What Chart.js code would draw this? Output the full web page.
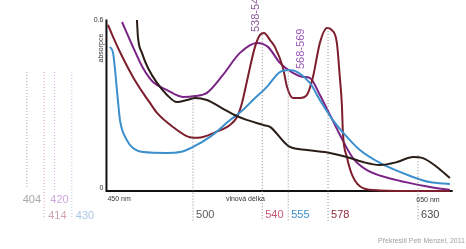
<!DOCTYPE html>
<html>
<head>
<meta charset="utf-8">
<script src="https://cdn.jsdelivr.net/npm/chart.js@4"></script>
<style>
  html, body { margin: 0; padding: 0; background: #fff; }
  #wrap { width: 466px; height: 249px; position: relative; }
</style>
</head>
<body>
<div id="wrap"><canvas id="spectrum"></canvas></div>
<script>
// absorpční spektra
const blackNm  = [467.6, 468.2, 470.5, 474, 479.2, 485, 490.7, 496.5, 501.1, 508, 516.7, 525.4, 540.4, 544.5, 553.1, 556, 565.8, 579.1, 588.9, 598.2, 608, 617.8, 627.1, 632.8, 640.9, 648.4];
const blackAbs = [0.598, 0.538, 0.483, 0.430, 0.378, 0.336, 0.311, 0.318, 0.325, 0.318, 0.290, 0.262, 0.231, 0.224, 0.168, 0.154, 0.143, 0.133, 0.119, 0.101, 0.091, 0.101, 0.119, 0.115, 0.084, 0.045];

const maroonNm  = [450.9, 453.8, 459.5, 465.3, 471.1, 475.1, 479.2, 488.4, 498.2, 503, 512.7, 521.3, 525.4, 528.3, 531.7, 535.8, 538.7, 541, 544.5, 547.3, 552, 554.3, 557.7, 561.8, 565.8, 569.3, 573.3, 577.4, 580.2, 583.1, 584.8, 586, 586.6, 588.9, 592.4, 598.2, 608, 630, 648.4];
const maroonAbs = [0.581, 0.539, 0.465, 0.399, 0.343, 0.308, 0.273, 0.224, 0.188, 0.186, 0.205, 0.231, 0.259, 0.308, 0.399, 0.504, 0.546, 0.553, 0.528, 0.504, 0.430, 0.364, 0.325, 0.325, 0.336, 0.399, 0.518, 0.570, 0.563, 0.518, 0.399, 0.301, 0.203, 0.119, 0.049, 0.010, 0.002, 0.0, 0.0];

const purpleNm  = [459, 465.3, 471.1, 476.9, 485, 494.2, 501.1, 508, 517.3, 527.1, 536.9, 543.3, 550.2, 557.7, 563.5, 567.6, 573.3, 579.1, 584.9, 592.4, 600.5, 617.8, 636.9, 648.4];
const purpleAbs = [0.591, 0.504, 0.430, 0.381, 0.353, 0.329, 0.332, 0.343, 0.406, 0.483, 0.518, 0.504, 0.448, 0.413, 0.399, 0.395, 0.336, 0.266, 0.196, 0.115, 0.073, 0.038, 0.014, 0.003];

const blueNm  = [452, 453.8, 456.6, 457.8, 461.8, 465.3, 471.1, 485, 492.5, 500, 509.8, 521.4, 528.8, 534.6, 542.7, 550.2, 556, 567.5, 573.3, 580.8, 588.9, 596.4, 608, 627, 636.8, 648.4];
const blueAbs = [0.504, 0.483, 0.318, 0.248, 0.178, 0.150, 0.136, 0.133, 0.136, 0.154, 0.189, 0.248, 0.283, 0.318, 0.364, 0.416, 0.423, 0.378, 0.318, 0.248, 0.189, 0.143, 0.098, 0.049, 0.031, 0.024];

// svislé tečkované čáry u maxim
const peakNm     = [500, 540, 555, 578, 630];
const peakLabels = ['500', '540', '555', '578', '630'];
const peakTop    = [0.330, 0.545, 0.425, 0.570, 0.125];
const peakColors = ['#5a5a5a', '#c45a72', '#3d8fcc', '#8e2a38', '#4a4a4a'];

// čáry vlevo mimo graf (Soretův pás)
const soretNm     = [404, 414, 420, 430];
const soretLabels = ['404', '414', '420', '430'];
const soretBottom = [0.010, -0.094, 0.004, -0.094];
const soretColors = ['#a8a8a8', '#d0a4aa', '#cfa8dc', '#a9c6e6'];
const soretTop = 0.416;

// popisky rozsahů maxim
const rangeLabels = ['538-546', '568-569'];
const rangeNm     = [540, 568.5];

const axisMin = 450, axisMax = 650, absMax = 0.6;

const curveColors = { black: '#2a1c16', maroon: '#7c1e2c', purple: '#7a2486', blue: '#3b8fcd' };

function toPoints(xs, ys) {
    return xs.map((x, i) => ({ x: x, y: ys[i] }));
}

function curve(xs, ys, color) {
    return {
        data: toPoints(xs, ys),
        borderColor: color,
        borderWidth: 2,
        pointRadius: 0,
        cubicInterpolationMode: 'monotone',
        fill: false
    };
}

function dotted(x, y0, y1, color) {
    return {
        data: [{ x: x, y: y0 }, { x: x, y: y1 }],
        borderColor: color,
        borderWidth: 1,
        borderDash: [1, 2],
        pointRadius: 0,
        fill: false
    };
}

const datasets = [];
peakNm.forEach((nm, i) => datasets.push(dotted(nm, peakTop[i], -0.105, '#8a8a8a')));
soretNm.forEach((nm, i) => datasets.push(dotted(nm, soretTop, soretBottom[i], soretColors[i])));
datasets.push(curve(blackNm, blackAbs, curveColors.black));
datasets.push(curve(blueNm, blueAbs, curveColors.blue));
datasets.push(curve(maroonNm, maroonAbs, curveColors.maroon));
datasets.push(curve(purpleNm, purpleAbs, curveColors.purple));
// osy
datasets.push({
    data: [{ x: axisMin, y: absMax }, { x: axisMin, y: 0 }, { x: axisMax, y: 0 }],
    borderColor: '#111',
    borderWidth: 2,
    pointRadius: 0,
    tension: 0,
    fill: false
});

// popisky kreslené přes měřítka grafu
const labelPlugin = {
    id: 'labels',
    afterDatasetsDraw(chart) {
        const ctx = chart.ctx;
        const xs = chart.scales.x, ys = chart.scales.y;
        ctx.save();
        ctx.textBaseline = 'middle';

        // maxima pod osou
        ctx.font = '11px "Liberation Sans", Arial, sans-serif';
        ctx.textAlign = 'left';
        peakNm.forEach((nm, i) => {
            ctx.fillStyle = peakColors[i];
            ctx.fillText(peakLabels[i], xs.getPixelForValue(nm) + 3, 215);
        });

        // Soretův pás
        soretNm.forEach((nm, i) => {
            ctx.fillStyle = soretColors[i];
            const px = xs.getPixelForValue(nm);
            if (soretBottom[i] > 0) {
                ctx.textAlign = 'center';
                ctx.fillText(soretLabels[i], px + 5, 200);
            } else {
                ctx.textAlign = 'left';
                ctx.fillText(soretLabels[i], px + 4, 216);
            }
        });

        // popisky os
        ctx.fillStyle = '#333';
        ctx.font = '7px "Liberation Sans", Arial, sans-serif';
        ctx.textAlign = 'left';
        const y0 = ys.getPixelForValue(0);
        ctx.fillText('450 nm', xs.getPixelForValue(axisMin) + 1, y0 + 8);
        ctx.fillText('vlnová délka', xs.getPixelForValue(519), y0 + 8);
        ctx.fillText('650 nm', xs.getPixelForValue(629), y0 + 9);
        ctx.textAlign = 'right';
        ctx.fillText('0.6', xs.getPixelForValue(axisMin) - 3, ys.getPixelForValue(absMax) + 1);
        ctx.fillText('0', xs.getPixelForValue(axisMin) - 3, y0 - 3);

        ctx.save();
        ctx.translate(xs.getPixelForValue(axisMin) - 5, ys.getPixelForValue(0.5));
        ctx.rotate(-Math.PI / 2);
        ctx.textAlign = 'center';
        ctx.fillText('absorpce', 0, 0);
        ctx.restore();

        // rozsahy maxim (svisle)
        ctx.font = '11px "Liberation Sans", Arial, sans-serif';
        ctx.fillStyle = '#8a5a98';
        ctx.save();
        ctx.translate(xs.getPixelForValue(rangeNm[0]) - 6, 32);
        ctx.rotate(-Math.PI / 2);
        ctx.textAlign = 'left';
        ctx.fillText(rangeLabels[0], 0, 0);
        ctx.restore();

        ctx.fillStyle = '#9a58b6';
        ctx.save();
        ctx.translate(xs.getPixelForValue(rangeNm[1]) - 11, 69);
        ctx.rotate(-Math.PI / 2);
        ctx.textAlign = 'left';
        ctx.fillText(rangeLabels[1], 0, 0);
        ctx.restore();

        // autor
        ctx.fillStyle = '#a0a0a0';
        ctx.font = '7px "Liberation Sans", Arial, sans-serif';
        ctx.textAlign = 'right';
        ctx.fillText('Překreslil Petr Menzel, 2011', 465, 241);

        ctx.restore();
    }
};

new Chart(document.getElementById('spectrum').getContext('2d'), {
    type: 'line',
    data: { datasets: datasets },
    options: {
        responsive: true,
        maintainAspectRatio: false,
        animation: false,
        layout: { padding: 0 },
        plugins: { legend: { display: false }, tooltip: { enabled: false } },
        scales: {
            x: { type: 'linear', min: 388.5, max: 657.7, display: false },
            y: { type: 'linear', min: -0.203, max: 0.668, display: false }
        }
    },
    plugins: [labelPlugin]
});
</script>
</body>
</html>
